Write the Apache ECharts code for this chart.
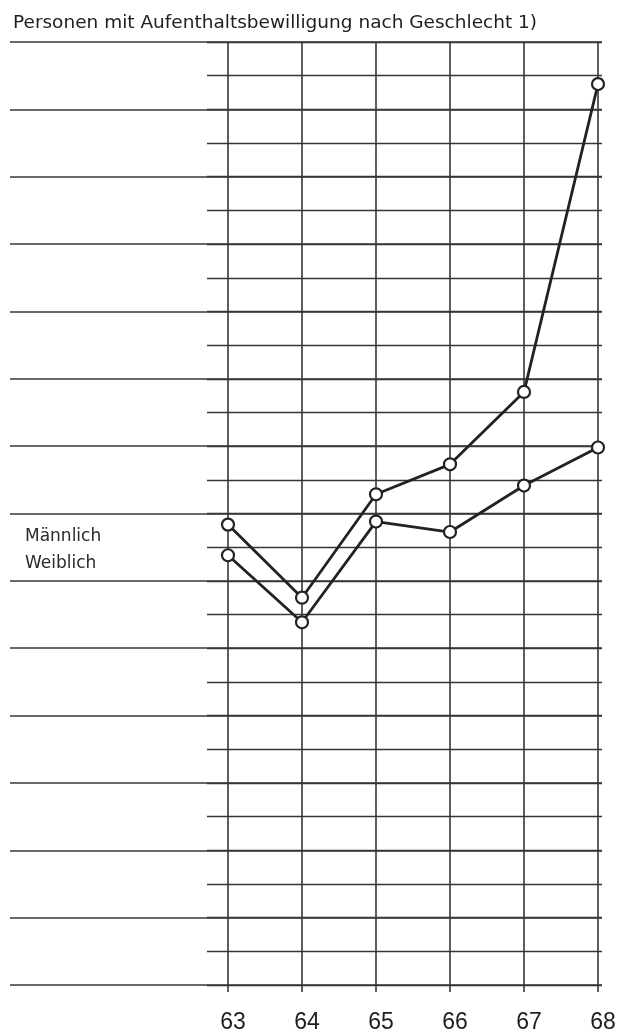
<!DOCTYPE html>
<html>
<head>
<meta charset="utf-8">
<title>Personen mit Aufenthaltsbewilligung nach Geschlecht</title>
<script src="https://cdn.jsdelivr.net/npm/echarts@6/dist/echarts.min.js"></script>
<style>
  html, body {
    margin: 0;
    padding: 0;
    background: #ffffff;
  }
  #chart {
    width: 629px;
    height: 1036px;
  }
</style>
</head>
<body>
<div id="chart"></div>
<script>
// Jahre (x-Achse)
const years = ['63', '64', '65', '66', '67', '68']
// Werte in Rastereinheiten (keine Beschriftung der y-Achse im Original)
const maennlich = [13.67, 11.5, 14.57, 15.46, 17.61, 26.75]
const weiblich = [12.76, 10.77, 13.76, 13.45, 14.83, 15.96]
const yMin = 0
const yMax = 28

const ink = '#222222'
const gridInk = '#363636'
const font = '"DejaVu Sans", "Liberation Sans", sans-serif'

const chart = echarts.init(document.getElementById('chart'))

const lineSeries = (name, data) => ({
  name: name,
  type: 'line',
  xAxisIndex: 2,
  yAxisIndex: 2,
  data: data,
  symbol: 'circle',
  symbolSize: 12,
  showSymbol: true,
  lineStyle: {
    color: ink,
    width: 2.8
  },
  itemStyle: {
    color: '#ffffff',
    borderColor: ink,
    borderWidth: 2.2
  },
  z: 5
})

const option = {
  backgroundColor: '#ffffff',
  animation: false,
  title: {
    text: 'Personen mit Aufenthaltsbewilligung nach Geschlecht 1)',
    left: 8,
    top: 9,
    textStyle: {
      fontFamily: font,
      fontSize: 18.5,
      fontWeight: 'normal',
      color: '#1e1e1e'
    }
  },
  legend: {
    orient: 'vertical',
    left: 15,
    top: 523,
    icon: 'none',
    itemWidth: 0,
    itemHeight: 10,
    itemGap: 10,
    selectedMode: false,
    textStyle: {
      fontFamily: font,
      fontSize: 17,
      color: '#2a2a2a'
    },
    data: ['Männlich', 'Weiblich']
  },
  grid: [
    // lange Rasterlinien
    {left: 10, right: 27, top: 42, bottom: 51},
    // kurze Rasterlinien
    {left: 207, right: 27, top: 42, bottom: 51},
    // Datenbereich
    {left: 228, right: 31, top: 42, bottom: 51}
  ],
  xAxis: [
    {gridIndex: 0, type: 'value', show: false},
    {gridIndex: 1, type: 'value', show: false},
    {
      gridIndex: 2,
      type: 'category',
      data: years,
      boundaryGap: false,
      axisLine: {show: false},
      axisTick: {
        show: true,
        length: 7,
        lineStyle: {color: gridInk, width: 1.6}
      },
      axisLabel: {
        margin: 26,
        padding: [0, 0, 0, 10],
        fontFamily: '"Liberation Sans", Arial, sans-serif',
        fontSize: 23,
        color: '#1e1e1e'
      },
      splitLine: {
        show: true,
        lineStyle: {color: gridInk, width: 1.6}
      }
    }
  ],
  yAxis: [
    {
      gridIndex: 0,
      type: 'value',
      min: yMin,
      max: yMax,
      interval: 2,
      axisLine: {show: false},
      axisTick: {show: false},
      axisLabel: {show: false},
      splitLine: {lineStyle: {color: gridInk, width: 1.6}}
    },
    {
      gridIndex: 1,
      type: 'value',
      min: yMin,
      max: yMax,
      interval: 1,
      axisLine: {show: false},
      axisTick: {show: false},
      axisLabel: {show: false},
      splitLine: {lineStyle: {color: gridInk, width: 1.4}}
    },
    {
      gridIndex: 2,
      type: 'value',
      min: yMin,
      max: yMax,
      show: false,
      splitLine: {show: false}
    }
  ],
  series: [
    lineSeries('Männlich', maennlich),
    lineSeries('Weiblich', weiblich)
  ]
}

chart.setOption(option)
</script>
</body>
</html>
